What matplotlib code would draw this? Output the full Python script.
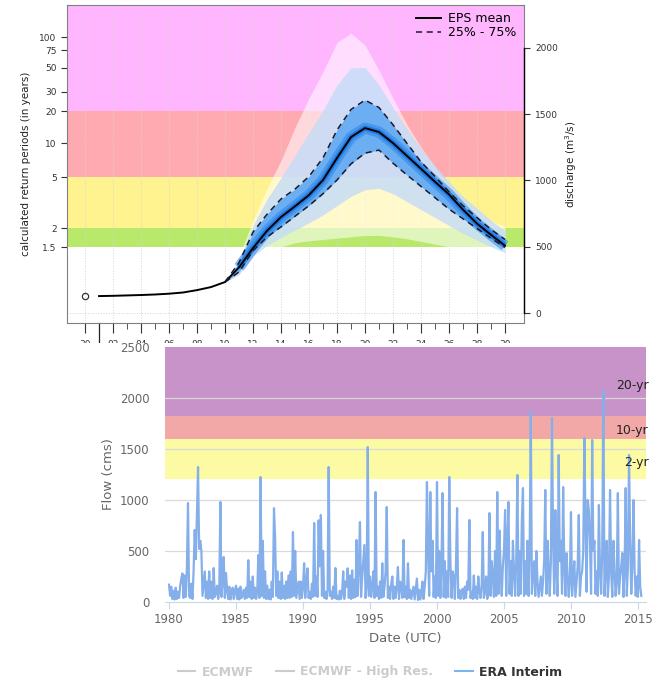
import numpy as np
import matplotlib
matplotlib.use("Agg")
import matplotlib.pyplot as plt
from matplotlib.lines import Line2D
from matplotlib.patches import Rectangle

# ---- top panel: EPS forecast (days, discharge m3/s) ----
day_labels = ["30", "02", "04", "06", "08", "10", "12", "14", "16",
              "18", "20", "22", "24", "26", "28", "30"]
rp_labels = ["1.5", "2", "5", "10", "20", "30", "50", "75", "100"]
rp_disch = [495, 640, 1025, 1282, 1523, 1667, 1848, 1983, 2081]

obs_day = 0
obs_val = 128

mean_days = list(range(1, 31))
eps_mean = [128, 130, 133, 136, 140, 146, 155, 173, 196, 234, 345, 490, 620,
            724, 805, 890, 1003, 1169, 1327, 1395, 1365, 1282, 1185, 1088,
            990, 895, 780, 675, 590, 508]

fan_days = list(range(10, 31))
q_min = [230, 270, 380, 450, 500, 530, 545, 555, 565, 575, 585, 585, 575,
         560, 540, 520, 500, 480, 460, 440, 425]
q10 = [232, 290, 430, 510, 570, 625, 680, 740, 810, 880, 930, 940, 900,
       840, 780, 720, 660, 600, 550, 500, 455]
q25 = [233, 310, 470, 573, 650, 730, 810, 900, 1003, 1125, 1206, 1229,
       1130, 1041, 955, 870, 784, 711, 638, 564, 495]
q75 = [235, 380, 610, 745, 860, 935, 1030, 1170, 1380, 1535, 1606, 1550,
       1420, 1280, 1140, 1030, 915, 810, 720, 630, 555]
q90 = [236, 400, 660, 860, 1020, 1190, 1360, 1530, 1720, 1850, 1850, 1720,
       1550, 1390, 1240, 1110, 990, 880, 790, 700, 620]
q_max = [238, 430, 700, 940, 1150, 1400, 1620, 1820, 2040, 2110, 2020, 1830,
         1620, 1420, 1250, 1100, 960, 850, 770, 700, 650]

# ---- bottom panel: ERA Interim reanalysis flow, monthly from 1980 ----
era_start = 1980
era_flow = [
    170, 60, 150, 30, 110, 25, 140, 30, 100, 40, 160, 230,          # 1980
    280, 40, 260, 50, 330, 970, 60, 40, 180, 30, 300, 705,          # 1981
    420, 850, 1323, 520, 600, 500, 60, 180, 300, 40, 200, 30,       # 1982
    300, 40, 200, 30, 333, 50, 90, 160, 30, 120, 980, 50,           # 1983
    200, 441, 40, 284, 120, 30, 150, 25, 100, 140, 30, 110,         # 1984
    160, 30, 130, 25, 150, 40, 60, 120, 30, 140, 40, 410,           # 1985
    50, 200, 30, 250, 40, 140, 30, 100, 460, 40, 1225, 60,          # 1986
    600, 40, 300, 30, 160, 30, 120, 25, 200, 50, 920, 640,          # 1987
    60, 300, 40, 200, 30, 290, 40, 160, 30, 200, 40, 260,           # 1988
    40, 300, 50, 686, 60, 500, 40, 120, 200, 30, 200, 40,           # 1989
    150, 380, 40, 200, 330, 40, 100, 30, 180, 50, 774, 60,          # 1990
    250, 50, 800, 350, 853, 60, 500, 40, 100, 30, 120, 1323,        # 1991
    60, 100, 30, 150, 40, 333, 30, 60, 25, 110, 30, 90,             # 1992
    300, 30, 200, 150, 330, 40, 260, 30, 310, 40, 220, 50,          # 1993
    608, 60, 350, 784, 50, 250, 400, 560, 40, 150, 1519, 60,        # 1994
    250, 50, 150, 300, 40, 1078, 60, 150, 30, 200, 40, 380,         # 1995
    50, 150, 300, 931, 40, 150, 30, 180, 250, 30, 150, 40,          # 1996
    150, 343, 30, 200, 150, 40, 608, 50, 150, 30, 380, 40,          # 1997
    120, 30, 90, 150, 25, 130, 230, 20, 120, 25, 100, 200,          # 1998
    30, 150, 300, 1176, 500, 60, 1078, 300, 600, 50, 250, 40,       # 1999
    1176, 60, 500, 40, 350, 1068, 50, 400, 40, 300, 50, 1225,       # 2000
    400, 40, 300, 250, 30, 350, 921, 40, 120, 30, 100, 130,         # 2001
    30, 150, 40, 200, 120, 804, 40, 100, 30, 260, 40, 150,          # 2002
    30, 250, 100, 40, 150, 686, 40, 100, 250, 30, 90, 872,          # 2003
    60, 400, 250, 50, 500, 60, 1078, 80, 700, 300, 60, 350,         # 2004
    500, 902, 60, 600, 980, 80, 400, 60, 600, 300, 60, 400,         # 2005
    1245, 60, 500, 80, 800, 1117, 60, 400, 80, 600, 60, 500,        # 2006
    1862, 80, 300, 400, 60, 500, 200, 50, 150, 250, 60, 200,        # 2007
    400, 1098, 80, 600, 350, 60, 400, 1803, 600, 80, 900, 300,      # 2008
    60, 1441, 400, 600, 80, 1127, 350, 60, 480, 250, 50, 200,       # 2009
    882, 60, 250, 400, 50, 200, 350, 853, 60, 250, 300, 500,        # 2010
    1607, 800, 100, 1000, 900, 600, 80, 1588, 500, 600, 80, 300,    # 2011
    60, 951, 300, 80, 500, 2078, 60, 300, 600, 50, 250, 1098,       # 2012
    300, 50, 600, 300, 60, 200, 1068, 80, 250, 350, 480, 50,        # 2013
    300, 1117, 60, 350, 1441, 600, 80, 400, 1000, 300, 60, 250,     # 2014
    50, 608, 150, 60,                                               # 2015
]
rp_flow_levels = [1206, 1600, 1820]   # 2-yr, 10-yr, 20-yr thresholds
rp_flow_text = ["2-yr", "10-yr", "20-yr"]
rp_flow_text_y = [1372, 1686, 2127]
legend_names = ["ECMWF", "ECMWF - High Res.", "ERA Interim"]

fig = plt.figure(figsize=(6.65, 6.8), dpi=100)

# ================= top panel =================
ax = fig.add_axes([67/665, 1-323/680, (524-67)/665, (323-5)/680])
ymin, ymax = -75, 2323
ax.set_xlim(-1.29, 31.36)
ax.set_ylim(ymin, ymax)

ax.axhspan(rp_disch[0], rp_disch[1], color="#b9e96a", lw=0, zorder=0.1)
ax.axhspan(rp_disch[1], rp_disch[2], color="#fff38f", lw=0, zorder=0.1)
ax.axhspan(rp_disch[2], rp_disch[4], color="#ffaab0", lw=0, zorder=0.1)
ax.axhspan(rp_disch[4], ymax, color="#ffb6ff", lw=0, zorder=0.1)

ax.set_axisbelow(True)
ax.grid(axis="x", linestyle=":", color="#d6d6d6", lw=0.7)
ax.axhline(0, linestyle=":", color="#d6d6d6", lw=0.7, zorder=0.5)

ax.fill_between(fan_days, q_min, q_max, color="white", alpha=0.55, lw=0, zorder=1)
ax.fill_between(fan_days, q10, q90, color="#c4dcf8", alpha=0.8, lw=0, zorder=1.1)
ax.fill_between(fan_days, q25, q75, color="#5aa6f2", alpha=0.85, lw=0, zorder=1.2)
ax.plot(mean_days[10:], eps_mean[10:], color="#2a86ea", lw=8, alpha=0.55,
        solid_capstyle="butt", zorder=1.3)
ax.plot(mean_days[10:], eps_mean[10:], color="#1570e0", lw=4, alpha=0.7,
        solid_capstyle="butt", zorder=1.4)

ax.plot(mean_days, eps_mean, color="black", lw=1.4, zorder=3, label="EPS mean")
ax.plot(fan_days, q25, color="#1a1a2e", lw=1.1, ls=(0, (4, 3)), zorder=3,
        label="25% - 75%")
ax.plot(fan_days, q75, color="#1a1a2e", lw=1.1, ls=(0, (4, 3)), zorder=3)
ax.plot(obs_day, obs_val, "o", mfc="none", mec="#333333", ms=4.5, mew=0.9, zorder=3)

ax.set_xticks(range(0, 31, 2))
ax.set_xticklabels(day_labels)
ax.set_xticks(range(0, 31), minor=True)
ax.tick_params(axis="x", which="major", length=7, labelsize=6.5, pad=5,
               colors="#333333")
ax.tick_params(axis="x", which="minor", length=4, color="#333333")
ax.plot([1, 1], [0, -0.07], transform=ax.get_xaxis_transform(), color="#222222",
        lw=0.9, clip_on=False)

ax.set_yticks(rp_disch)
ax.set_yticklabels(rp_labels)
ax.tick_params(axis="y", length=4, labelsize=6.5, colors="#333333")
ax.set_ylabel("calculated return periods (in years)", fontsize=7.5,
              color="#222222", labelpad=6)
for s in ax.spines.values():
    s.set_color("#808080")
    s.set_linewidth(0.8)

tw = ax.twinx()
tw.set_ylim(ymin, ymax)
tw.set_yticks([0, 500, 1000, 1500, 2000])
tw.tick_params(axis="y", length=4, labelsize=6.5, colors="#333333", pad=4)
tw.spines["right"].set_bounds(0, 2000)
tw.spines["right"].set_color("black")
tw.spines["right"].set_linewidth(1.0)
for k in ["left", "top", "bottom"]:
    tw.spines[k].set_visible(False)
tw.set_ylabel("discharge (m$^3$/s)", fontsize=7.5, color="#222222", labelpad=4)

ax.legend(loc="upper right", frameon=False, fontsize=9, handlelength=2.0,
          labelspacing=0.05, borderaxespad=0.2, handletextpad=0.6)

# the lower panel covers the bottom of the day labels
fig.add_artist(Rectangle((0, 0), 1, 1-343/680, transform=fig.transFigure,
                         facecolor="white", edgecolor="none", zorder=5))

# ================= bottom panel =================
ax2 = fig.add_axes([165/665, 1-602/680, (646-165)/665, (602-347)/680])
ax2.set_zorder(10)
ax2.set_xlim(1979.7, 2015.6)
ax2.set_ylim(0, 2500)

ax2.axhspan(rp_flow_levels[0], rp_flow_levels[1], color="#fcfaa2", lw=0, zorder=0.1)
ax2.axhspan(rp_flow_levels[1], rp_flow_levels[2], color="#f3a8a8", lw=0, zorder=0.1)
ax2.axhspan(rp_flow_levels[2], 2500, color="#c893c8", lw=0, zorder=0.1)
for yv in [500, 1000, 1500, 2000]:
    ax2.axhline(yv, color="#dadada", lw=0.9, zorder=0.5)

era_year = era_start + np.arange(len(era_flow)) / 12.0
ax2.plot(era_year, era_flow, color="#84afeb", lw=1.6, zorder=3)

for lvl_txt, ty in zip(rp_flow_text, rp_flow_text_y):
    ax2.text(1.005, ty, lvl_txt, transform=ax2.get_yaxis_transform(),
             ha="right", va="center", fontsize=9, color="#222222", zorder=4)

ax2.set_yticks(range(0, 2501, 500))
ax2.set_xticks(range(1980, 2016, 5))
ax2.tick_params(axis="y", length=0, labelsize=8.5, labelcolor="#666666", pad=11)
ax2.tick_params(axis="x", length=5, color="#ccd6eb", labelsize=8.5,
                labelcolor="#666666", pad=3)
for k in ["left", "top", "right"]:
    ax2.spines[k].set_visible(False)
ax2.spines["bottom"].set_color("#ccd6eb")
ax2.set_ylabel("Flow (cms)", fontsize=9.5, color="#666666", labelpad=4)
ax2.set_xlabel("Date (UTC)", fontsize=9.5, color="#666666", labelpad=4)

handles = [Line2D([], [], color="#cccccc", lw=1.5),
           Line2D([], [], color="#cccccc", lw=1.5),
           Line2D([], [], color="#7cb5ec", lw=1.5)]
leg = fig.legend(handles, legend_names, loc="center",
                 bbox_to_anchor=(370/665, 1-672/680), ncol=3, frameon=False,
                 fontsize=9, handlelength=1.4, columnspacing=1.8,
                 handletextpad=0.5, prop={"weight": "bold", "size": 9})
leg.set_zorder(20)
for t, c in zip(leg.get_texts(), ["#cccccc", "#cccccc", "#333333"]):
    t.set_color(c)

fig.savefig("out.png", dpi=100)
